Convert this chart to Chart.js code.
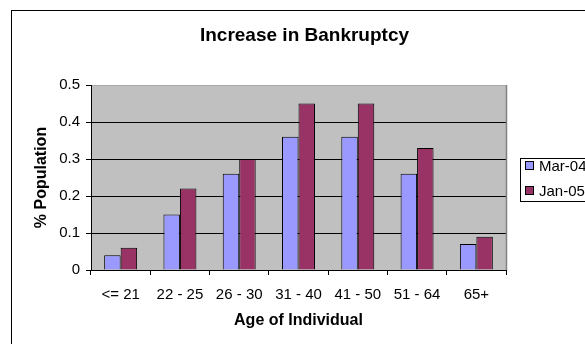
<!DOCTYPE html>
<html>
<head>
<meta charset="utf-8">
<script src="https://cdn.jsdelivr.net/npm/chart.js@4.4.1/dist/chart.umd.min.js"></script>
<style>
  html, body { margin: 0; padding: 0; background: #fff; }
  #wrap { width: 585px; height: 344px; position: relative; }
</style>
</head>
<body>
<div id="wrap"><canvas id="chart"></canvas></div>
<script>
// data
const ageGroups = ["<= 21", "22 - 25", "26 - 30", "31 - 40", "41 - 50", "51 - 64", "65+"];
const mar04 = [0.04, 0.15, 0.26, 0.36, 0.36, 0.26, 0.07];
const jan05 = [0.06, 0.22, 0.30, 0.45, 0.45, 0.33, 0.09];
const seriesNames = ["Mar-04", "Jan-05"];
const chartTitle = "Increase in Bankruptcy";

const FONT = "'Liberation Sans', Arial, sans-serif";

// grey plot area + outer frame
const backdrop = {
    id: "backdrop",
    beforeDraw(chart) {
        const { ctx, chartArea: a } = chart;
        ctx.save();
        ctx.fillStyle = "#fff";
        ctx.fillRect(0, 0, chart.width, chart.height);
        ctx.strokeStyle = "#000";
        ctx.lineWidth = 1;
        ctx.strokeRect(11.5, 10.5, 700, 500);
        ctx.fillStyle = "#c0c0c0";
        ctx.fillRect(a.left, a.top, a.right - a.left, a.bottom - a.top);
        ctx.restore();
    },
    afterDatasetsDraw(chart) {
        const { ctx, chartArea: a } = chart;
        ctx.save();
        ctx.strokeStyle = "#808080";
        ctx.lineWidth = 1.5;
        ctx.beginPath();
        ctx.moveTo(a.right + 0.5, a.top);
        ctx.lineTo(a.right + 0.5, a.bottom);
        ctx.stroke();
        ctx.restore();
    },
};

// title and boxed legend placed like the excel chart
const excelBits = {
    id: "excelBits",
    afterDraw(chart) {
        const { ctx } = chart;
        ctx.save();
        ctx.fillStyle = "#000";
        ctx.font = "bold 19px " + FONT;
        ctx.textAlign = "center";
        ctx.textBaseline = "middle";
        ctx.fillText(chartTitle, 304.5, 36);

        ctx.strokeStyle = "#000";
        ctx.lineWidth = 1;
        ctx.strokeRect(520.5, 158.5, 120, 43);
        ctx.font = "15px " + FONT;
        ctx.textAlign = "left";
        chart.data.datasets.forEach((ds, i) => {
            const y = 166 + i * 25;
            ctx.fillStyle = ds.backgroundColor;
            ctx.fillRect(525.5, y - 4.5, 8, 8);
            ctx.strokeRect(525.5, y - 4.5, 8, 8);
            ctx.fillStyle = "#000";
            ctx.fillText(ds.label, 539, y + 0.5);
        });
        ctx.restore();
    },
};

new Chart(document.getElementById("chart"), {
    type: "bar",
    data: {
        labels: ageGroups,
        datasets: [
            { label: seriesNames[0], data: mar04, backgroundColor: "#9999ff", borderColor: "#000", borderWidth: 1 },
            { label: seriesNames[1], data: jan05, backgroundColor: "#993366", borderColor: "#000", borderWidth: 1 },
        ],
    },
    options: {
        responsive: true,
        maintainAspectRatio: false,
        animation: false,
        devicePixelRatio: 1,
        layout: { padding: { left: 32, right: 79, top: 85, bottom: 0 } },
        datasets: { bar: { categoryPercentage: 0.556, barPercentage: 1.0 } },
        plugins: {
            legend: { display: false },
            title: { display: false },
            tooltip: { enabled: false },
        },
        scales: {
            x: {
                afterFit(scale) { scale.height = 74; },
                grid: { drawOnChartArea: false, drawTicks: true, tickLength: 5, color: "#000", offset: true },
                border: { color: "#000", width: 1 },
                ticks: { color: "#000", font: { family: FONT, size: 15 }, padding: 11, maxRotation: 0, autoSkip: false },
                title: {
                    display: true, text: "Age of Individual", color: "#000",
                    font: { family: FONT, size: 16, weight: "bold" },
                    padding: { top: 0, bottom: 14 },
                },
            },
            y: {
                min: 0, max: 0.5,
                afterFit(scale) { scale.width = 59; },
                grid: {
                    color: (c) => (c.tick && c.tick.value >= 0.5 ? "#a8a8a8" : "#000"),
                    tickColor: "#000", tickLength: 5, lineWidth: 1,
                },
                border: { color: "#000", width: 1 },
                ticks: { stepSize: 0.1, color: "#000", font: { family: FONT, size: 15 }, padding: 6 },
                title: {
                    display: true, text: "% Population", color: "#000",
                    font: { family: FONT, size: 16, weight: "bold" },
                    padding: { top: 0, bottom: 0 },
                },
            },
        },
    },
    plugins: [backdrop, excelBits],
});
</script>
</body>
</html>
